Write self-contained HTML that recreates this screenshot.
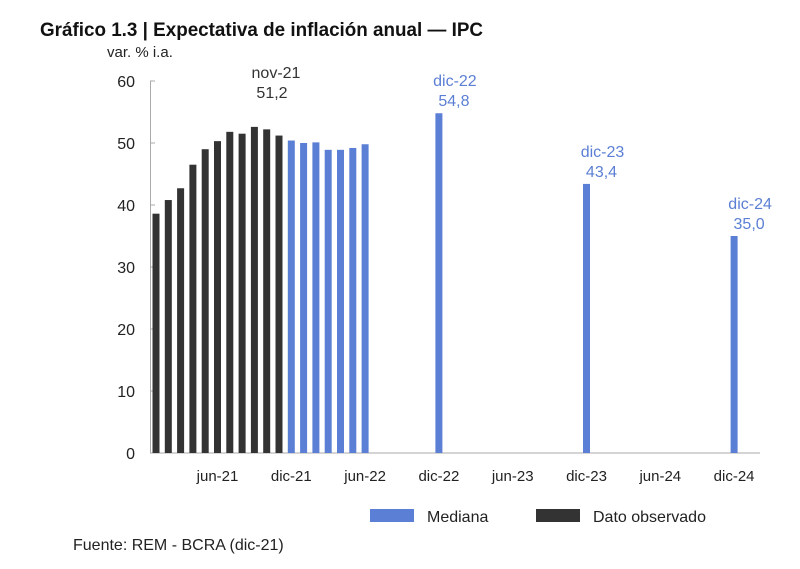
<!DOCTYPE html>
<html><head><meta charset="utf-8"><style>
body{margin:0;background:#fff;}
svg{display:block;font-family:"Liberation Sans",sans-serif;}
</style></head><body>
<svg id="chart" width="800" height="569" viewBox="0 0 800 569">
<text x="40" y="36" font-size="19" font-weight="bold" fill="#111" textLength="443" lengthAdjust="spacingAndGlyphs">Gráfico 1.3 | Expectativa de inflación anual — IPC</text>
<text x="107" y="57" font-size="15" fill="#222">var. % i.a.</text>
<g id="axes"></g>
<g id="bars"></g>
<g id="labels"></g>
<g>
<rect x="370" y="509" width="44" height="13" fill="#5b7fd4"/>
<text x="427" y="522" font-size="16" fill="#222">Mediana</text>
<rect x="536" y="509" width="44" height="13" fill="#333"/>
<text x="593" y="522" font-size="16" fill="#222">Dato observado</text>
</g>
<text x="73" y="550" font-size="16" fill="#222">Fuente: REM - BCRA (dic-21)</text>
</svg>
<script>
const observedValues=[38.6,40.8,42.7,46.5,49.0,50.3,51.8,51.5,52.6,52.2,51.2];
const medianMonthly=[50.4,50.0,50.1,48.9,48.9,49.2,49.8];
const medianAnnual=[54.8,43.4,35.0];
const annualLabels=["dic-22","dic-23","dic-24"];
const annualValueLabels=["54,8","43,4","35,0"];
const xTickLabels=["jun-21","dic-21","jun-22","dic-22","jun-23","dic-23","jun-24","dic-24"];
const yTicks=[0,10,20,30,40,50,60];

const NS="http://www.w3.org/2000/svg";
const y=v=>453-v*6.2;
const x=i=>156+i*12.3; // month index from jan-21
function mk(tag,attrs,parent){const e=document.createElementNS(NS,tag);for(const k in attrs)e.setAttribute(k,attrs[k]);parent.appendChild(e);return e;}
const axes=document.getElementById('axes'),bars=document.getElementById('bars'),labels=document.getElementById('labels');
let ax=mk('line',{x1:150.5,x2:150.5,y1:y(60),y2:y(0),stroke:'#aaa','stroke-width':1},axes);


let bx=mk('line',{x1:150,x2:760,y1:y(0),y2:y(0),stroke:'#aaa','stroke-width':1},axes);


yTicks.forEach(t=>{
  let tk=mk('line',{x1:150,x2:155,y1:y(t),y2:y(t),stroke:'#aaa'},axes);
  
  
  let tx=mk('text',{x:135,y:y(t)+6,'font-size':16,'text-anchor':'end',fill:'#222'},axes);
  tx.textContent=t;
  
  
});
xTickLabels.forEach((l,k)=>{
  let tx=mk('text',{x:x(5+6*k),y:481,'font-size':15,'text-anchor':'middle',fill:'#222'},axes);
  tx.textContent=l;
  
  
});
const bw=7;
observedValues.forEach((v,i)=>{
  let r=mk('rect',{x:x(i)-bw/2,y:y(v),width:bw,height:y(0)-y(v),fill:'#333'},bars);
  
  
});
medianMonthly.forEach((v,i)=>{
  let r=mk('rect',{x:x(11+i)-bw/2,y:y(v),width:bw,height:y(0)-y(v),fill:'#5b7fd4'},bars);
  
  
});
medianAnnual.forEach((v,i)=>{
  const cx=x(23+12*i);
  let r=mk('rect',{x:cx-bw/2,y:y(v),width:bw,height:y(0)-y(v),fill:'#5b7fd4'},bars);
  
  
  let t1=mk('text',{x:cx+16,y:y(v)-27,'font-size':16,'text-anchor':'middle',fill:'#5b7fd4'},labels);
  t1.textContent=annualLabels[i];
  
  
  let t2=mk('text',{x:cx+15,y:y(v)-7,'font-size':16,'text-anchor':'middle',fill:'#5b7fd4'},labels);
  t2.textContent=annualValueLabels[i];
  
  
});
const nv=observedValues[observedValues.length-1];
let n1=mk('text',{x:276,y:78,'font-size':16,'text-anchor':'middle',fill:'#333'},labels);
n1.textContent='nov-21';


let n2=mk('text',{x:272,y:98,'font-size':16,'text-anchor':'middle',fill:'#333'},labels);
n2.textContent=nv.toFixed(1).replace('.',',');


</script>
</body></html>
